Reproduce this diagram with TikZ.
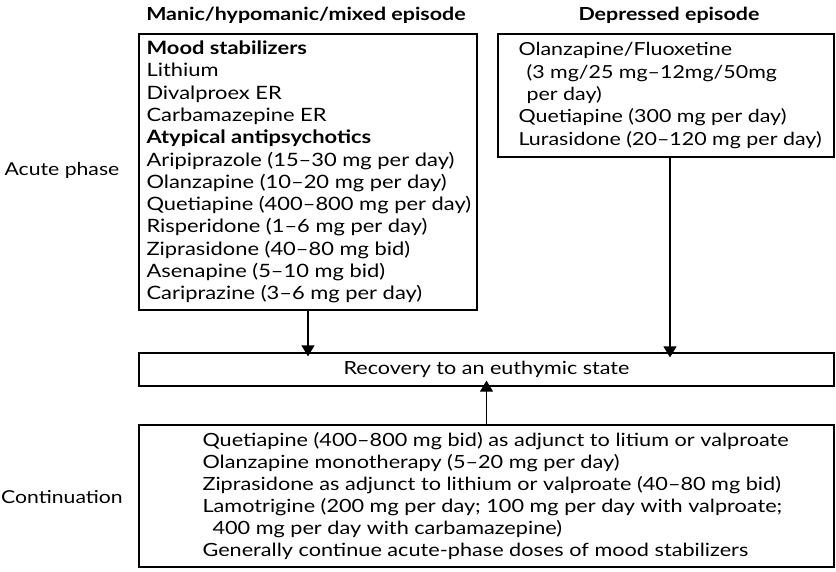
\documentclass[tikz,border=0pt]{standalone}
\usepackage{fontspec}
\setmainfont{Lato}[FakeStretch=1.19]
\usetikzlibrary{arrows.meta}
\begin{document}
\begin{tikzpicture}[x=1pt,y=-1pt,
  box/.style={draw, line width=1.3pt, inner sep=0pt},
  txt/.style={anchor=west, align=left, inner sep=0pt, font=\fontsize{18}{22.3}\selectfont},
  head/.style={font=\fontsize{18}{20}\selectfont\bfseries, inner sep=0pt},
  side/.style={font=\fontsize{17.8}{20}\selectfont, inner sep=0pt},
  arr/.style={line width=1.3pt, -{Triangle[length=11pt,width=13pt]}}]
\useasboundingbox (0,0) rectangle (836,572);
\node[head] (h1) at (306,15) {Manic/hypomanic/mixed episode};
\node[head] (h2) at (669,15) {Depressed episode};
\node[side] (s1) at (62,170) {Acute phase};
\node[side] (s2) at (62,497) {Continuation};
\node[box, minimum width=338pt, minimum height=276pt] (L) at (308,172) {};
\node[box, minimum width=336pt, minimum height=123pt] (D) at (666,95.5) {};
\node[box, minimum width=695pt, minimum height=33pt] (Rec) at (486.5,369.5) {};
\node[box, minimum width=695pt, minimum height=142pt] (C) at (486.5,496) {};
\node[txt, font=\fontsize{18.4}{22.3}\selectfont] (Lt) at ([xshift=8pt]L.west) {\textbf{Mood stabilizers}\\
Lithium\\
Divalproex ER\\
Carbamazepine ER\\
\textbf{Atypical antipsychotics}\\
Aripiprazole (15--30 mg per day)\\
Olanzapine (10--20 mg per day)\\
Quetiapine (400--800 mg per day)\\
Risperidone (1--6 mg per day)\\
Ziprasidone (40--80 mg bid)\\
Asenapine (5--10 mg bid)\\
Cariprazine (3--6 mg per day)};
\node[txt] (Dt) at ([xshift=21pt]D.west) {Olanzapine/Fluoxetine\\
\hspace*{8pt}(3 mg/25 mg--12mg/50mg\\
\hspace*{8pt}per day)\\
Quetiapine (300 mg per day)\\
Lurasidone (20--120 mg per day)};
\node[side, font=\fontsize{18.1}{20}\selectfont] (Rect) at (Rec.center) {Recovery to an euthymic state};
\node[txt, font=\fontsize{18.2}{22}\selectfont] (Ct) at ([xshift=64pt]C.west) {Quetiapine (400--800 mg bid) as adjunct to litium or valproate\\
Olanzapine monotherapy (5--20 mg per day)\\
Ziprasidone as adjunct to lithium or valproate (40--80 mg bid)\\
Lamotrigine (200 mg per day; 100 mg per day with valproate;\\
\hspace*{10pt}400 mg per day with carbamazepine)\\
Generally continue acute-phase doses of mood stabilizers};
\draw[arr] (L.south) -- ([yshift=-4pt]L.south |- Rec.north);
\draw[arr] ([xshift=4pt]D.south) -- ([xshift=4pt,yshift=-5pt]D.south |- Rec.north);
\draw[arr] (C.north) -- ([yshift=6pt]Rec.south);
\end{tikzpicture}
\end{document}
